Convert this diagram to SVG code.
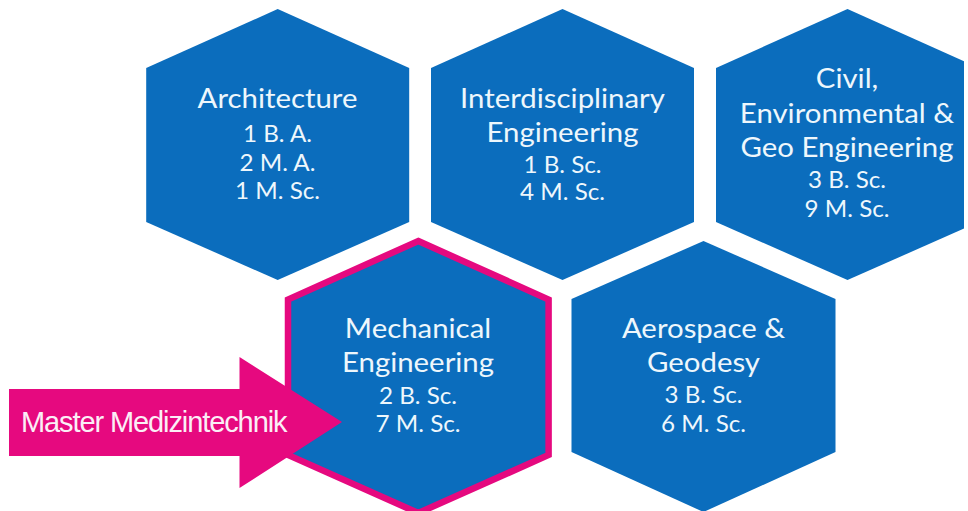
<svg xmlns="http://www.w3.org/2000/svg" width="968" height="511" viewBox="0 0 968 511">
  <style>
    .hex { fill: #0b6dbd; }
    .hex-hl { fill: #0b6dbd; stroke: #e5097f; stroke-width: 6.5; stroke-linejoin: miter; }
    .title { font-family: Lato, "Open Sans", "Liberation Sans", sans-serif; font-size: 26px; fill: #eef7fc; text-anchor: middle; }
    .count { font-family: Lato, "Open Sans", "Liberation Sans", sans-serif; font-size: 23.5px; fill: #eef7fc; text-anchor: middle; }
    .arrow { fill: #e6097f; }
    .arrow-label { font-family: "Liberation Sans", Arial, sans-serif; font-size: 29px; fill: #fbeef6; letter-spacing: -1.1px; }
  </style>
  <rect x="0" y="0" width="968" height="511" fill="#ffffff"/>

  <!-- top row; labels are widened horizontally around each hexagon's centre line -->
  <g id="architecture">
    <polygon class="hex" points="277.7,9 409.2,68 409.2,222 277.7,280 146.2,222 146.2,68"/>
    <g transform="translate(277.5 0) scale(1.13 1)">
      <text class="title" x="0" y="108.5">Architecture</text>
    </g>
    <g transform="translate(277.5 0) scale(1.03 1)">
      <text class="count" x="0" y="142.5">1 B. A.</text>
      <text class="count" x="0" y="171">2 M. A.</text>
      <text class="count" x="0" y="199.5">1 M. Sc.</text>
    </g>
  </g>

  <g id="interdisciplinary-engineering">
    <polygon class="hex" points="562.5,9 694,68 694,222 562.5,280 431,222 431,68"/>
    <g transform="translate(562.5 0) scale(1.13 1)">
      <text class="title" x="0" y="108">Interdisciplinary</text>
      <text class="title" x="0" y="142">Engineering</text>
    </g>
    <g transform="translate(562.5 0) scale(1.03 1)">
      <text class="count" x="0" y="173">1 B. Sc.</text>
      <text class="count" x="0" y="200">4 M. Sc.</text>
    </g>
  </g>

  <g id="civil-environmental-geo-engineering">
    <polygon class="hex" points="847.5,9 964,61.3 964,228.6 847.5,280 716,222 716,68"/>
    <g transform="translate(847 0) scale(1.13 1)">
      <text class="title" x="0" y="88.3">Civil,</text>
      <text class="title" x="0" y="123.3">Environmental &amp;</text>
      <text class="title" x="0" y="156.7">Geo Engineering</text>
    </g>
    <g transform="translate(847 0) scale(1.03 1)">
      <text class="count" x="0" y="188.3">3 B. Sc.</text>
      <text class="count" x="0" y="216.7">9 M. Sc.</text>
    </g>
  </g>

  <!-- bottom row -->
  <g id="aerospace-geodesy">
    <polygon class="hex" points="703.5,241 835.5,299 835.5,452 703.5,512 571.5,452 571.5,299"/>
    <g transform="translate(703.5 0) scale(1.13 1)">
      <text class="title" x="0" y="338.3">Aerospace &amp;</text>
      <text class="title" x="0" y="371.7">Geodesy</text>
    </g>
    <g transform="translate(703.5 0) scale(1.03 1)">
      <text class="count" x="0" y="403.3">3 B. Sc.</text>
      <text class="count" x="0" y="431.7">6 M. Sc.</text>
    </g>
  </g>

  <g id="mechanical-engineering">
    <polygon class="hex-hl" points="418.3,241 548.6,299.5 548.6,455 418.3,513 288,455 288,299.5"/>
    <g transform="translate(418 0) scale(1.13 1)">
      <text class="title" x="0" y="338">Mechanical</text>
      <text class="title" x="0" y="372">Engineering</text>
    </g>
    <g transform="translate(418 0) scale(1.03 1)">
      <text class="count" x="0" y="404">2 B. Sc.</text>
      <text class="count" x="0" y="432">7 M. Sc.</text>
    </g>
  </g>

  <!-- block arrow pointing into the highlighted hexagon -->
  <g id="connectors">
    <g id="master-medizintechnik">
      <polygon class="arrow" points="9,389 239.5,389 239.5,357 342,422 239.5,488 239.5,456 9,456"/>
      <text class="arrow-label" x="21" y="431.7">Master Medizintechnik</text>
    </g>
  </g>
</svg>
